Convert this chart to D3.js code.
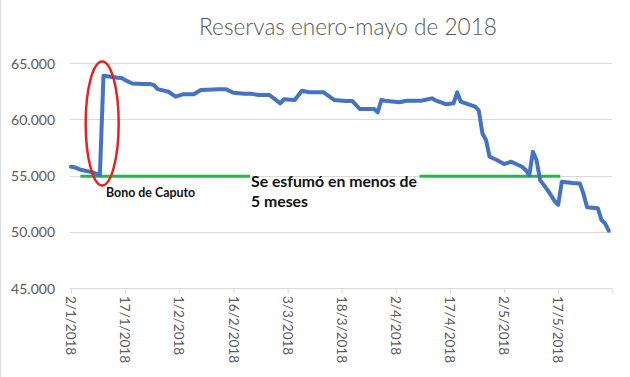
<!DOCTYPE html>
<html>
<head>
<meta charset="utf-8">
<script src="https://cdn.jsdelivr.net/npm/d3@7"></script>
<style>
  html, body { margin: 0; padding: 0; background: #fff; }
  svg { display: block; }
</style>
</head>
<body>
<svg id="chart" width="630" height="377"></svg>
<script>
// ---- data ----
const dates = [
  "2018-01-02","2018-01-03","2018-01-05","2018-01-08","2018-01-10","2018-01-11","2018-01-12",
  "2018-01-15","2018-01-16","2018-01-17","2018-01-19","2018-01-22","2018-01-24","2018-01-25",
  "2018-01-26","2018-01-29","2018-01-31","2018-02-02","2018-02-05","2018-02-07","2018-02-12",
  "2018-02-14","2018-02-16","2018-02-19","2018-02-21","2018-02-23","2018-02-26","2018-03-01",
  "2018-03-02","2018-03-05","2018-03-07","2018-03-09","2018-03-13","2018-03-16","2018-03-19",
  "2018-03-21","2018-03-23","2018-03-27","2018-03-28","2018-03-29","2018-03-30","2018-04-03",
  "2018-04-05","2018-04-09","2018-04-12","2018-04-13","2018-04-16","2018-04-18","2018-04-19",
  "2018-04-20","2018-04-23","2018-04-24","2018-04-25","2018-04-26","2018-04-27","2018-04-28",
  "2018-04-30","2018-05-02","2018-05-04","2018-05-07","2018-05-08","2018-05-09","2018-05-10",
  "2018-05-11","2018-05-12","2018-05-14","2018-05-16","2018-05-17","2018-05-18","2018-05-21",
  "2018-05-23","2018-05-24","2018-05-25","2018-05-28","2018-05-29","2018-05-30","2018-05-31"
];
const reservas = [
  55790,55740,55500,55290,55050,63900,63850,
  63720,63700,63500,63200,63150,63150,63050,
  62700,62470,62030,62240,62240,62620,62680,
  62680,62380,62300,62280,62180,62180,61440,
  61800,61730,62560,62420,62420,61730,61640,
  61640,60930,60930,60640,61730,61660,61530,
  61670,61670,61880,61700,61350,61440,62420,
  61580,61250,61150,60800,58770,58170,56680,
  56390,56030,56240,55790,55500,55050,57130,
  56390,54600,53750,52750,52400,54460,54350,
  54310,53400,52180,52090,51050,50750,50100
];
const yTicks = [45000, 50000, 55000, 60000, 65000];
const xTickDates = ["2018-01-02","2018-01-17","2018-02-01","2018-02-16","2018-03-03",
                    "2018-03-18","2018-04-02","2018-04-17","2018-05-02","2018-05-17","2018-06-01"];
const xLabelDates = xTickDates.slice(0, 10);
const xDomain = ["2018-01-02", "2018-06-01"];
const yDomain = [45000, 65000];
const title = "Reservas enero-mayo de 2018";
const bonoLabel = "Bono de Caputo";
const annotLines = ["Se esfumó en menos de", "5 meses"];
const refLevel = 55000;
const bonoDates = ["2018-01-10", "2018-01-11"];
const greenSegs = [["2018-01-05", "2018-02-21"], ["2018-04-09", "2018-05-18"]];

// ---- setup ----
const parse = d3.utcParse("%Y-%m-%d");
const data = dates.map((d, i) => ({ date: parse(d), value: reservas[i] }));
const svg = d3.select("#chart");
const FONT = "Lato, 'Open Sans', sans-serif";
const GRAY = "#595959";

const x = d3.scaleUtc().domain(xDomain.map(parse)).range([71, 612.3]);
const y = d3.scaleLinear().domain(yDomain).range([288, 63.3]);

const locale = d3.formatLocale({ decimal: ",", thousands: ".", grouping: [3], currency: ["$", ""] });
const fmtY = locale.format(",.0f");
const fmtX = d3.utcFormat("%-d/%-m/%Y");

// chart frame (left edge)
svg.append("line").attr("x1", 0.5).attr("x2", 0.5).attr("y1", 0).attr("y2", 377)
  .attr("stroke", "#d9d9d9").attr("stroke-width", 1);

// title
svg.append("text").attr("x", 348).attr("y", 35).attr("text-anchor", "middle")
  .attr("font-family", FONT).attr("font-weight", 300).attr("font-size", 22.6)
  .attr("fill", GRAY).text(title);

// gridlines
svg.append("g").selectAll("line").data(yTicks.filter(t => t !== yDomain[0])).join("line")
  .attr("x1", 70).attr("x2", 612.3)
  .attr("y1", d => Math.round(y(d)) + 0.5).attr("y2", d => Math.round(y(d)) + 0.5)
  .attr("stroke", "#d9d9d9").attr("stroke-width", 1);

// y axis labels
const yAxis = d3.axisLeft(y).tickValues(yTicks).tickFormat(fmtY).tickSize(0).tickPadding(0);
const gy = svg.append("g").attr("transform", "translate(55,0)").call(yAxis);
gy.select(".domain").remove();
gy.selectAll("text").attr("font-family", FONT).attr("font-size", 14).attr("fill", GRAY).attr("dy", "0.36em");

// x axis
const xAxis = d3.axisBottom(x).tickValues(xTickDates.map(parse)).tickSize(5).tickFormat(d => "");
const gx = svg.append("g").attr("transform", "translate(0,288.5)").call(xAxis);
gx.select(".domain").attr("d", "M70,0H612.3").attr("stroke", "#d9d9d9");
gx.selectAll(".tick line").attr("stroke", "#d9d9d9");

svg.append("g").selectAll("text").data(xLabelDates.map(parse)).join("text")
  .attr("transform", d => `translate(${x(d)},296) rotate(90)`)
  .attr("dy", "0.36em")
  .attr("text-anchor", "start")
  .attr("font-family", FONT).attr("font-size", 13.5).attr("fill", GRAY)
  .text(d => fmtX(d));

// green reference segments
svg.append("g").selectAll("line").data(greenSegs).join("line")
  .attr("x1", d => x(parse(d[0])) - 1.5).attr("x2", d => x(parse(d[1])) - 1.5)
  .attr("y1", y(refLevel) + 0.5).attr("y2", y(refLevel) + 0.5)
  .attr("stroke", "#2fb24a").attr("stroke-width", 3);

// main line
const line = d3.line().x(d => x(d.date)).y(d => y(d.value)).curve(d3.curveLinear);
svg.append("path").datum(data).attr("d", line)
  .attr("fill", "none").attr("stroke", "#4472c4").attr("stroke-width", 4)
  .attr("stroke-linejoin", "round").attr("stroke-linecap", "round");

// red ellipse around the bond jump
const bx = (x(parse(bonoDates[0])) + x(parse(bonoDates[1]))) / 2;
svg.append("ellipse").attr("cx", bx + 0.5).attr("cy", y((60000 + 65000) / 2) - 10 + 42)
  .attr("rx", 16.5).attr("ry", 62)
  .attr("fill", "none").attr("stroke", "#e8201f").attr("stroke-width", 2.5);

// annotations
svg.append("text").attr("x", 106).attr("y", 197)
  .attr("font-family", FONT).attr("font-weight", 700).attr("font-size", 12.4).attr("fill", "#111")
  .text(bonoLabel);

svg.append("g").selectAll("text").data(annotLines).join("text")
  .attr("x", 251).attr("y", (d, i) => 187 + i * 20)
  .attr("font-family", FONT).attr("font-weight", 700).attr("font-size", 15.8).attr("fill", "#111")
  .text(d => d);
</script>
</body>
</html>
